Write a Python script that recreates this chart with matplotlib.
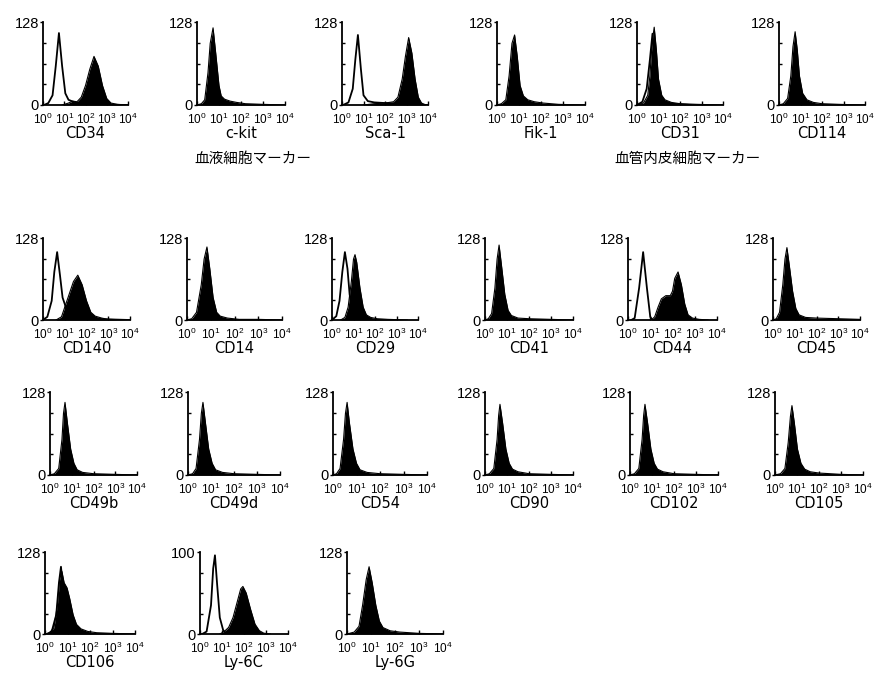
import matplotlib
matplotlib.use("Agg")
import matplotlib.pyplot as plt

plt.rcParams['font.family'] = ['Liberation Sans', 'Noto Sans CJK JP', 'DejaVu Sans']
plt.rcParams['mathtext.fontset'] = 'custom'
plt.rcParams['mathtext.rm'] = 'Liberation Sans'
plt.rcParams['mathtext.it'] = 'Liberation Sans'

# ---------------- data (x in log10 decades, y = cell count) ----------------
MARKERS = ["CD34", "c-kit", "Sca-1", "Fik-1", "CD31", "CD114",
           "CD140", "CD14", "CD29", "CD41", "CD44", "CD45",
           "CD49b", "CD49d", "CD54", "CD90", "CD102", "CD105",
           "CD106", "Ly-6C", "Ly-6G"]
Y_MAX = [128, 128, 128, 128, 128, 128,
         128, 128, 128, 128, 128, 128,
         128, 128, 128, 128, 128, 128,
         128, 100, 128]
X_TICK_LABELS = ["10^{0}", "10^{1}", "10^{2}", "10^{3}", "10^{4}"]
GROUP_LABELS = ["血液細胞マーカー", "血管内皮細胞マーカー"]

cd34_open_x = [0.05, 0.25, 0.45, 0.6, 0.75, 0.9, 1.05, 1.2, 1.5, 1.8, 2.2, 4.0]
cd34_open_y = [0, 3, 15, 60, 111, 60, 18, 8, 4, 2, 1, 0]
cd34_fill_x = [0.9, 1.2, 1.4, 1.6, 1.8, 2.0, 2.2, 2.4, 2.6, 2.8, 3.0, 3.2, 3.5, 3.9]
cd34_fill_y = [0, 3, 6, 5, 12, 30, 55, 75, 60, 30, 10, 3, 1, 0]

ckit_fill_x = [0.0, 0.2, 0.35, 0.5, 0.6, 0.73, 0.85, 1.0, 1.1, 1.25, 1.5, 1.8, 2.2, 3.0, 4.0]
ckit_fill_y = [0, 2, 8, 50, 95, 119, 80, 30, 14, 9, 6, 4, 2, 1, 0]

sca1_open_x = [0.05, 0.3, 0.5, 0.62, 0.74, 0.88, 1.0, 1.2, 1.5, 2.0, 2.5, 4.0]
sca1_open_y = [0, 4, 25, 70, 108, 55, 15, 6, 4, 3, 2, 0]
sca1_fill_x = [1.0, 1.5, 2.0, 2.4, 2.6, 2.8, 2.95, 3.1, 3.25, 3.4, 3.55, 3.7, 3.9]
sca1_fill_y = [0, 2, 3, 5, 12, 40, 75, 104, 80, 40, 12, 3, 0]

fik1_fill_x = [0.0, 0.2, 0.4, 0.55, 0.68, 0.8, 0.92, 1.05, 1.2, 1.4, 1.7, 2.1, 2.8, 4.0]
fik1_fill_y = [0, 2, 8, 45, 95, 108, 75, 30, 14, 8, 5, 3, 1, 0]

cd31_open_x = [0.0, 0.25, 0.45, 0.6, 0.72, 0.85, 1.0, 1.2, 1.6, 2.5]
cd31_open_y = [0, 5, 25, 70, 110, 60, 20, 6, 2, 0]
cd31_fill_x = [0.0, 0.3, 0.5, 0.6, 0.7, 0.8, 0.9, 1.0, 1.15, 1.3, 1.6, 2.0, 2.8, 4.0]
cd31_fill_y = [0, 3, 15, 45, 95, 120, 85, 40, 15, 8, 4, 2, 1, 0]

cd114_fill_x = [0.0, 0.2, 0.4, 0.55, 0.65, 0.75, 0.85, 0.95, 1.1, 1.3, 1.6, 2.0, 2.8, 4.0]
cd114_fill_y = [0, 2, 10, 45, 90, 113, 85, 45, 18, 8, 4, 2, 1, 0]

cd140_open_x = [0.0, 0.2, 0.4, 0.52, 0.65, 0.78, 0.9, 1.05, 1.2, 1.5, 2.0, 4.0]
cd140_open_y = [0, 5, 30, 75, 106, 70, 35, 20, 10, 5, 2, 0]
cd140_fill_x = [0.6, 0.85, 1.0, 1.2, 1.4, 1.6, 1.8, 2.0, 2.2, 2.4, 2.7, 3.0, 4.0]
cd140_fill_y = [0, 5, 20, 40, 60, 70, 55, 30, 12, 6, 3, 1, 0]

cd14_fill_x = [0.0, 0.2, 0.4, 0.6, 0.72, 0.84, 0.96, 1.1, 1.25, 1.4, 1.7, 2.2, 3.0, 4.0]
cd14_fill_y = [0, 2, 12, 55, 95, 114, 80, 35, 12, 6, 3, 1, 1, 0]

cd29_open_x = [0.0, 0.2, 0.35, 0.48, 0.6, 0.72, 0.82, 0.95, 1.1, 1.3, 1.6, 2.0]
cd29_open_y = [0, 6, 30, 75, 106, 80, 40, 15, 6, 3, 1, 0]
cd29_fill_x = [0.4, 0.6, 0.75, 0.9, 1.0, 1.07, 1.15, 1.3, 1.45, 1.6, 1.8, 2.1, 2.6, 3.5]
cd29_fill_y = [0, 4, 20, 60, 95, 102, 90, 50, 20, 8, 4, 2, 1, 0]

cd41_fill_x = [0.0, 0.15, 0.3, 0.45, 0.55, 0.64, 0.75, 0.9, 1.05, 1.2, 1.5, 2.0, 3.0, 4.0]
cd41_fill_y = [0, 2, 10, 50, 95, 117, 85, 40, 15, 7, 3, 2, 1, 0]

cd44_open_x = [0.15, 0.3, 0.5, 0.68, 0.85, 1.0, 1.1]
cd44_open_y = [0, 3, 50, 106, 50, 5, 0]
cd44_fill_x = [1.05, 1.2, 1.35, 1.5, 1.7, 1.9, 2.0, 2.1, 2.25, 2.4, 2.55, 2.7, 2.9, 3.2, 3.6]
cd44_fill_y = [0, 5, 20, 33, 38, 38, 45, 65, 75, 55, 25, 8, 3, 1, 0]

cd45_fill_x = [0.0, 0.15, 0.3, 0.45, 0.55, 0.64, 0.75, 0.9, 1.05, 1.2, 1.5, 2.0, 3.0, 4.0]
cd45_fill_y = [0, 2, 12, 55, 95, 113, 85, 45, 18, 8, 4, 3, 2, 1]

cd49b_fill_x = [0.0, 0.2, 0.4, 0.55, 0.62, 0.69, 0.8, 0.95, 1.1, 1.25, 1.5, 2.0, 3.0, 4.0]
cd49b_fill_y = [0, 2, 10, 55, 95, 112, 80, 40, 18, 8, 4, 2, 1, 0]

cd49d_fill_x = [0.0, 0.2, 0.35, 0.5, 0.58, 0.65, 0.76, 0.9, 1.05, 1.2, 1.5, 2.0, 3.0, 4.0]
cd49d_fill_y = [0, 2, 10, 55, 95, 112, 80, 40, 18, 8, 4, 2, 1, 0]

cd54_fill_x = [0.0, 0.15, 0.3, 0.45, 0.53, 0.6, 0.7, 0.85, 1.0, 1.15, 1.45, 2.0, 3.0, 4.0]
cd54_fill_y = [0, 2, 10, 55, 95, 112, 80, 40, 18, 8, 4, 2, 1, 0]

cd90_fill_x = [0.0, 0.2, 0.4, 0.55, 0.62, 0.68, 0.8, 0.95, 1.1, 1.25, 1.5, 2.0, 3.0, 4.0]
cd90_fill_y = [0, 2, 10, 55, 92, 109, 80, 40, 18, 9, 5, 2, 1, 0]

cd102_fill_x = [0.0, 0.2, 0.4, 0.55, 0.62, 0.68, 0.8, 0.95, 1.1, 1.25, 1.5, 2.0, 3.0, 4.0]
cd102_fill_y = [0, 2, 10, 55, 92, 109, 80, 40, 18, 9, 5, 2, 1, 0]

cd105_fill_x = [0.0, 0.25, 0.45, 0.6, 0.7, 0.77, 0.88, 1.02, 1.18, 1.35, 1.6, 2.0, 3.0, 4.0]
cd105_fill_y = [0, 2, 10, 50, 90, 107, 80, 40, 18, 9, 5, 3, 1, 0]

cd106_open_x = [0.1, 0.3, 0.5, 0.62, 0.71, 0.8, 0.9, 1.05, 1.2, 1.5, 2.0]
cd106_open_y = [0, 4, 30, 80, 105, 70, 40, 20, 8, 3, 0]
cd106_fill_x = [0.0, 0.2, 0.4, 0.55, 0.65, 0.75, 0.85, 0.98, 1.1, 1.25, 1.4, 1.6, 1.9, 2.3, 3.0, 4.0]
cd106_fill_y = [0, 2, 10, 45, 85, 98, 80, 72, 55, 30, 15, 8, 4, 2, 1, 0]

ly6c_open_x = [0.1, 0.3, 0.5, 0.6, 0.68, 0.78, 0.9, 1.05, 1.2]
ly6c_open_y = [0, 3, 35, 80, 96, 60, 20, 5, 0]
ly6c_fill_x = [0.9, 1.1, 1.3, 1.5, 1.7, 1.85, 1.95, 2.1, 2.3, 2.5, 2.7, 2.9, 3.2]
ly6c_fill_y = [0, 3, 8, 20, 40, 55, 58, 50, 30, 12, 4, 1, 0]

ly6g_fill_x = [0.0, 0.3, 0.5, 0.65, 0.8, 0.92, 1.05, 1.2, 1.35, 1.5, 1.8, 2.2, 3.0, 4.0]
ly6g_fill_y = [0, 3, 12, 45, 85, 105, 80, 45, 20, 10, 5, 3, 1, 0]

FILLED = [(cd34_fill_x, cd34_fill_y), (ckit_fill_x, ckit_fill_y), (sca1_fill_x, sca1_fill_y),
          (fik1_fill_x, fik1_fill_y), (cd31_fill_x, cd31_fill_y), (cd114_fill_x, cd114_fill_y),
          (cd140_fill_x, cd140_fill_y), (cd14_fill_x, cd14_fill_y), (cd29_fill_x, cd29_fill_y),
          (cd41_fill_x, cd41_fill_y), (cd44_fill_x, cd44_fill_y), (cd45_fill_x, cd45_fill_y),
          (cd49b_fill_x, cd49b_fill_y), (cd49d_fill_x, cd49d_fill_y), (cd54_fill_x, cd54_fill_y),
          (cd90_fill_x, cd90_fill_y), (cd102_fill_x, cd102_fill_y), (cd105_fill_x, cd105_fill_y),
          (cd106_fill_x, cd106_fill_y), (ly6c_fill_x, ly6c_fill_y), (ly6g_fill_x, ly6g_fill_y)]
OPEN = [(cd34_open_x, cd34_open_y), None, (sca1_open_x, sca1_open_y), None,
        (cd31_open_x, cd31_open_y), None,
        (cd140_open_x, cd140_open_y), None, (cd29_open_x, cd29_open_y), None,
        (cd44_open_x, cd44_open_y), None,
        None, None, None, None, None, None,
        (cd106_open_x, cd106_open_y), (ly6c_open_x, ly6c_open_y), None]

# ---------------- layout (pixels) ----------------
W, H = 874, 684
ROW_TOP = [22, 238, 392, 552]
ROW_BOT = [105, 320, 475, 634]
COL_SPANS = [
    [(43, 128), (197, 285), (342, 428), (497, 585), (637, 723), (779, 865)],
    [(43, 130), (187, 282), (332, 418), (485, 573), (628, 717), (773, 860)],
    [(50, 137), (188, 280), (333, 427), (485, 573), (630, 718), (775, 863)],
    [(45, 135), (200, 288), (347, 443)],
]

fig = plt.figure(figsize=(W / 100, H / 100), dpi=100)
fig.patch.set_facecolor('white')

k = 0
for r, spans in enumerate(COL_SPANS):
    for (x0, x1) in spans:
        ax = fig.add_axes([x0 / W, 1 - ROW_BOT[r] / H, (x1 - x0) / W, (ROW_BOT[r] - ROW_TOP[r]) / H])
        ymax = Y_MAX[k]
        fx, fy = FILLED[k]
        ax.fill_between(fx, fy, 0, color='black', lw=0, zorder=2)
        ax.plot(fx, fy, color='black', lw=0.8, zorder=3)
        if OPEN[k] is not None:
            ox, oy = OPEN[k]
            ax.plot(ox, oy, color='black', lw=1.3, zorder=4)
        ax.set_xlim(0, 4)
        ax.set_ylim(0, ymax)
        for s in ('top', 'right'):
            ax.spines[s].set_visible(False)
        for s in ('left', 'bottom'):
            ax.spines[s].set_linewidth(1.3)
        ax.set_xticks(range(5))
        ax.set_xticklabels([r'$\mathregular{' + t + '}$' for t in X_TICK_LABELS], fontsize=8.5)
        ax.tick_params(axis='x', direction='in', length=3, width=1, pad=5)
        ax.set_yticks([0, ymax])
        ax.set_yticklabels(['0', str(ymax)], fontsize=10.5)
        ax.tick_params(axis='y', direction='out', length=2, width=1, pad=1)
        ax.set_yticks([ymax * f for f in (0.25, 0.5, 0.75)], minor=True)
        ax.tick_params(axis='y', which='minor', direction='in', length=2, width=1)
        ax.set_xlabel(MARKERS[k], fontsize=10.5, labelpad=-1, family='DejaVu Sans')
        ax.patch.set_alpha(0)
        k += 1

fig.text(253 / W, 1 - 159 / H, GROUP_LABELS[0], ha='center', va='center', fontsize=10.5,
         family=['Noto Sans CJK JP'])
fig.text(688 / W, 1 - 159 / H, GROUP_LABELS[1], ha='center', va='center', fontsize=10.5,
         family=['Noto Sans CJK JP'])

fig.savefig('out.png', dpi=100)
